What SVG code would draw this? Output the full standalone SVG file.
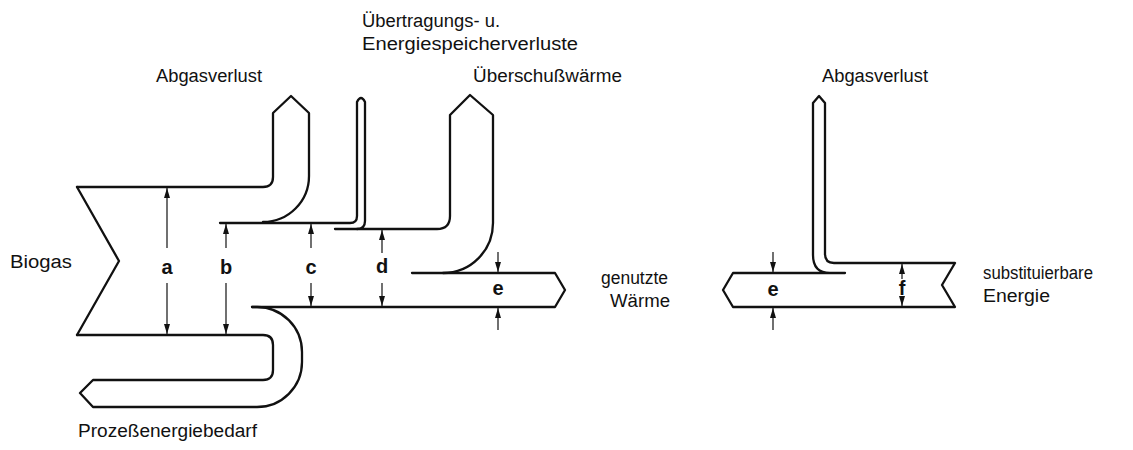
<svg xmlns="http://www.w3.org/2000/svg" width="1133" height="450" viewBox="0 0 1133 450">
<style>
.flow{fill:none;stroke:#111;stroke-width:2.3;stroke-linejoin:round;stroke-linecap:round}
.dim{fill:none;stroke:#111;stroke-width:1.2}
.lbl{font-family:"Liberation Sans",Arial,sans-serif;font-size:18px;fill:#111}
.let{font-family:"Liberation Sans",Arial,sans-serif;font-size:20px;font-weight:bold;fill:#111;text-anchor:middle}
</style>
<defs>
<marker id="ah" viewBox="0 0 10 6" refX="10" refY="3" markerWidth="10" markerHeight="6" orient="auto" markerUnits="userSpaceOnUse">
<path d="M0,0 L10,3 L0,6 z" fill="#111"/>
</marker>
</defs>
<rect width="1133" height="450" fill="#fff"/>

<g id="biogas">
<path class="flow" d="M77 187 L119 261 L77 335"/>
<text class="lbl" x="10" y="268" textLength="62" lengthAdjust="spacingAndGlyphs">Biogas</text>
</g>

<g id="abgasverlust-left">
<path class="flow" d="M77 187 L263 187 Q273 187 273 177 L273 113 L291 96 L309 113 L309 176 A46 46 0 0 1 263 222"/>
<text class="lbl" x="156" y="82" textLength="106" lengthAdjust="spacingAndGlyphs">Abgasverlust</text>
</g>

<g id="uebertragungsverluste">
<path class="flow" d="M220 223 L350 223 Q357 223 357 216 L357 102 Q361 94 365 102 L365 221 Q365 229 357 229"/>
<text class="lbl" x="362" y="27" textLength="138" lengthAdjust="spacingAndGlyphs">Übertragungs- u.</text>
<text class="lbl" x="362" y="50" textLength="216" lengthAdjust="spacingAndGlyphs">Energiespeicherverluste</text>
</g>

<g id="ueberschusswaerme">
<path class="flow" d="M335 229 L437 229 Q450 229 450 216 L450 115 L470 95 L493 115 L493 223 A50 50 0 0 1 443 273"/>
<text class="lbl" x="473" y="82" textLength="149" lengthAdjust="spacingAndGlyphs">Überschußwärme</text>
</g>

<g id="genutzte-waerme">
<path class="flow" d="M412 273 L555 273 L565 290 L555 307 L252 307"/>
<text class="lbl" x="601" y="284" textLength="67" lengthAdjust="spacingAndGlyphs">genutzte</text>
<text class="lbl" x="610" y="307" textLength="60" lengthAdjust="spacingAndGlyphs">Wärme</text>
</g>

<g id="prozessenergie">
<path class="flow" d="M77 335 L263 335 Q273 335 273 345 L273 370 Q273 380 263 380 L93 380 L80 393 L93 407 L257 407 A45 45 0 0 0 302 362 L302 352 A45 45 0 0 0 257 307 L252 307"/>
<text class="lbl" x="78" y="437" textLength="179" lengthAdjust="spacingAndGlyphs">Prozeßenergiebedarf</text>
</g>

<g id="right-diagram">
<path class="flow" d="M845 273 L733 273 L723 290 L733 307 L955 307 L942 285 L955 263 L834 263 Q825 263 825 254 L825 103 L819 96 L813 103 L813 255 Q813 273 830 273"/>
<text class="lbl" x="822" y="82" textLength="106" lengthAdjust="spacingAndGlyphs">Abgasverlust</text>
<text class="lbl" x="983" y="279" textLength="110" lengthAdjust="spacingAndGlyphs">substituierbare</text>
<text class="lbl" x="983" y="302" textLength="67" lengthAdjust="spacingAndGlyphs">Energie</text>
</g>

<g id="connectors">
<line class="dim" x1="167" y1="248" x2="167" y2="188" marker-end="url(#ah)"/>
<line class="dim" x1="167" y1="283" x2="167" y2="334" marker-end="url(#ah)"/>
<line class="dim" x1="226" y1="248" x2="226" y2="224" marker-end="url(#ah)"/>
<line class="dim" x1="226" y1="283" x2="226" y2="334" marker-end="url(#ah)"/>
<line class="dim" x1="311" y1="248" x2="311" y2="224" marker-end="url(#ah)"/>
<line class="dim" x1="311" y1="283" x2="311" y2="306" marker-end="url(#ah)"/>
<line class="dim" x1="382" y1="253" x2="382" y2="230" marker-end="url(#ah)"/>
<line class="dim" x1="382" y1="283" x2="382" y2="306" marker-end="url(#ah)"/>
<line class="dim" x1="498" y1="252" x2="498" y2="272" marker-end="url(#ah)"/>
<line class="dim" x1="498" y1="330" x2="498" y2="308" marker-end="url(#ah)"/>
<line class="dim" x1="773" y1="252" x2="773" y2="272" marker-end="url(#ah)"/>
<line class="dim" x1="773" y1="330" x2="773" y2="308" marker-end="url(#ah)"/>
<line class="dim" x1="902" y1="279" x2="902" y2="264" marker-end="url(#ah)"/>
<line class="dim" x1="902" y1="297" x2="902" y2="306" marker-end="url(#ah)"/>
<text class="let" x="167" y="274">a</text>
<text class="let" x="226" y="274">b</text>
<text class="let" x="311" y="274">c</text>
<text class="let" x="382" y="273">d</text>
<text class="let" x="498" y="295">e</text>
<text class="let" x="773" y="296">e</text>
<text class="let" x="902" y="295">f</text>
</g>
</svg>
